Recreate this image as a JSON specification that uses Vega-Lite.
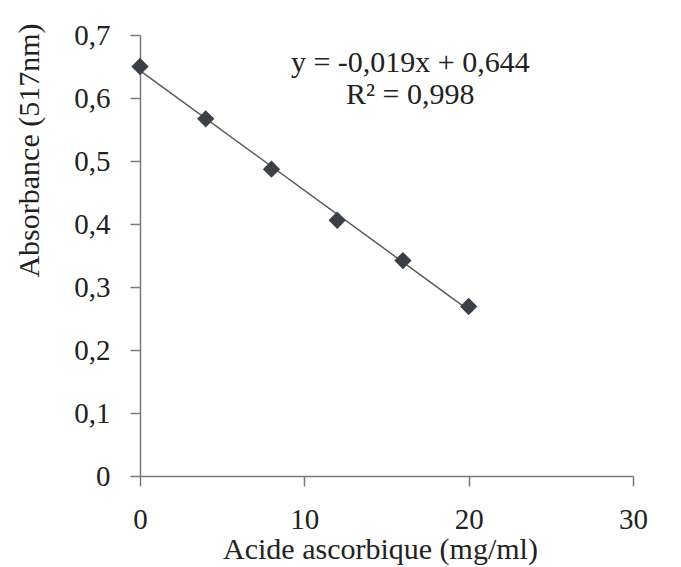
{
  "$schema": "https://vega.github.io/schema/vega-lite/v6.json",
  "autosize": "none",
  "width": 493,
  "height": 441,
  "padding": {"left": 140, "top": 35, "right": 48, "bottom": 91},
  "background": "white",
  "config": {
    "view": {"stroke": null},
    "font": "Liberation Serif",
    "axis": {
      "grid": false,
      "domainColor": "#7a7a7a",
      "domainWidth": 1.5,
      "tickColor": "#7a7a7a",
      "tickWidth": 1.5,
      "tickSize": 10,
      "labelFont": "Liberation Serif",
      "labelFontSize": 29,
      "labelColor": "#222222",
      "titleFont": "Liberation Serif",
      "titleFontSize": 30,
      "titleFontWeight": "normal",
      "titleColor": "#222222"
    }
  },
  "data": {
    "values": [
      {"conc": 0, "abs": 0.650},
      {"conc": 4, "abs": 0.567},
      {"conc": 8, "abs": 0.487},
      {"conc": 12, "abs": 0.406},
      {"conc": 16, "abs": 0.342},
      {"conc": 20, "abs": 0.269}
    ]
  },
  "layer": [
    {
      "transform": [{"regression": "abs", "on": "conc", "extent": [0, 20]}],
      "mark": {"type": "line", "color": "#5a5a5a", "strokeWidth": 1.5},
      "encoding": {
        "x": {"field": "conc", "type": "quantitative"},
        "y": {"field": "abs", "type": "quantitative"}
      }
    },
    {
      "mark": {"type": "point", "shape": "diamond", "filled": true, "size": 300, "color": "#3a3f48", "opacity": 1},
      "encoding": {
        "x": {
          "field": "conc",
          "type": "quantitative",
          "scale": {"domain": [0, 30], "nice": false},
          "axis": {
            "values": [0, 10, 20, 30],
            "title": "Acide ascorbique (mg/ml)",
            "labelPadding": 19,
            "labelFlush": false,
            "titleX": 240,
            "titleY": 58,
            "titleBaseline": "top"
          }
        },
        "y": {
          "field": "abs",
          "type": "quantitative",
          "scale": {"domain": [0, 0.7], "nice": false},
          "axis": {
            "values": [0, 0.1, 0.2, 0.3, 0.4, 0.5, 0.6, 0.7],
            "labelExpr": "datum.value == 0 ? '0' : replace(format(datum.value, '.1f'), '.', ',')",
            "labelPadding": 20,
            "labelFlush": false,
            "title": "Absorbance (517nm)",
            "titleAngle": -90,
            "titleX": -111,
            "titleY": 115,
            "titleAlign": "center",
            "titleBaseline": "middle"
          }
        }
      }
    },
    {
      "data": {"values": [{"eq": "y = -0,019x + 0,644", "r2": "R² = 0,998"}]},
      "mark": {"type": "text", "font": "Liberation Serif", "fontSize": 30, "fontWeight": "normal", "fill": "#222222", "align": "center", "baseline": "middle", "lineHeight": 32},
      "encoding": {
        "x": {"datum": 16.45, "type": "quantitative"},
        "y": {"datum": 0.655, "type": "quantitative"},
        "text": {"value": ["y = -0,019x + 0,644", "R² = 0,998"]}
      }
    }
  ]
}
